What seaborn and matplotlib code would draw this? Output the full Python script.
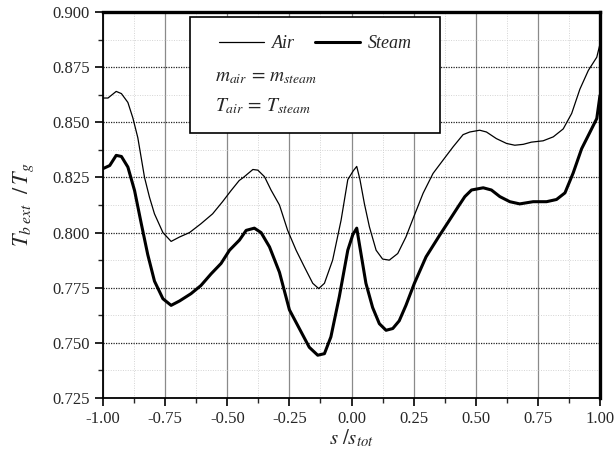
import matplotlib
matplotlib.use("Agg")
import matplotlib.pyplot as plt
from matplotlib.patches import Rectangle
from matplotlib.ticker import MultipleLocator, FormatStrFormatter
import seaborn as sns
import pandas as pd

# Values
s_air = [-1.00, -0.98, -0.947, -0.926, -0.90, -0.88, -0.86, -0.833, -0.813, -0.793,
         -0.759, -0.726, -0.692, -0.652, -0.606, -0.559, -0.519, -0.485, -0.452, -0.435,
         -0.397, -0.377, -0.35, -0.324, -0.29, -0.257, -0.223, -0.19, -0.156, -0.132,
         -0.109, -0.076, -0.042, -0.015, 0.007, 0.021, 0.034, 0.052, 0.072, 0.099,
         0.125, 0.152, 0.186, 0.219, 0.25, 0.288, 0.328, 0.368, 0.409, 0.449,
         0.476, 0.516, 0.543, 0.583, 0.624, 0.657, 0.691, 0.724, 0.771, 0.812,
         0.852, 0.886, 0.919, 0.953, 0.987, 1.0]
t_air = [0.861, 0.861, 0.864, 0.863, 0.859, 0.852, 0.843, 0.825, 0.816, 0.8085,
         0.800, 0.796, 0.798, 0.800, 0.804, 0.8085, 0.814, 0.819, 0.8236, 0.825,
         0.8286, 0.8283, 0.8253, 0.8193, 0.8125, 0.801, 0.792, 0.7845, 0.777, 0.7746,
         0.777, 0.7875, 0.8056, 0.824, 0.828, 0.830, 0.824, 0.813, 0.8026, 0.792,
         0.788, 0.7875, 0.7905, 0.798, 0.807, 0.8178, 0.8268, 0.8328, 0.8389, 0.8444,
         0.8456, 0.8464, 0.8456, 0.8426, 0.8404, 0.8396, 0.840, 0.841, 0.8416, 0.8434,
         0.847, 0.854, 0.865, 0.8735, 0.8795, 0.8855]

s_steam = [-1.00, -0.973, -0.947, -0.926, -0.90, -0.873, -0.846, -0.82, -0.793, -0.759,
           -0.726, -0.692, -0.646, -0.606, -0.565, -0.525, -0.491, -0.451, -0.424, -0.391,
           -0.364, -0.33, -0.29, -0.25, -0.21, -0.17, -0.136, -0.109, -0.083, -0.049,
           -0.015, 0.005, 0.021, 0.038, 0.058, 0.085, 0.112, 0.139, 0.166, 0.192,
           0.219, 0.253, 0.30, 0.353, 0.394, 0.429, 0.456, 0.483, 0.53, 0.563,
           0.597, 0.637, 0.677, 0.731, 0.785, 0.825, 0.859, 0.892, 0.926, 0.96,
           0.987, 1.0]
t_steam = [0.829, 0.8304, 0.835, 0.8345, 0.8297, 0.819, 0.804, 0.790, 0.778, 0.770,
           0.767, 0.769, 0.7723, 0.776, 0.7813, 0.786, 0.792, 0.7966, 0.801, 0.802,
           0.800, 0.7935, 0.782, 0.765, 0.7565, 0.748, 0.7444, 0.7451, 0.7527, 0.771,
           0.792, 0.799, 0.802, 0.7905, 0.777, 0.766, 0.7587, 0.7557, 0.7565, 0.760,
           0.767, 0.777, 0.789, 0.7985, 0.8056, 0.8117, 0.8163, 0.8193, 0.8203, 0.8193,
           0.8163, 0.814, 0.813, 0.814, 0.814, 0.815, 0.818, 0.827, 0.838, 0.8456,
           0.8517, 0.8622]

air = pd.DataFrame({"s": s_air, "t": t_air})
steam = pd.DataFrame({"s": s_steam, "t": t_steam})

sns.set_style("white")
plt.rcParams["font.family"] = ["Liberation Serif", "DejaVu Serif"]
plt.rcParams["mathtext.fontset"] = "stix"

fig = plt.figure(figsize=(6.14, 4.51), dpi=100)
ax = fig.add_axes([0.1678, 0.1175, 0.8094, 0.8559])

sns.lineplot(data=air, x="s", y="t", ax=ax, color="black", lw=0.9,
             sort=False, estimator=None, label="Air")
sns.lineplot(data=steam, x="s", y="t", ax=ax, color="black", lw=2.2,
             sort=False, estimator=None, label="Steam")

ax.set_xlim(-1.0, 1.0)
ax.set_ylim(0.725, 0.900)
ax.xaxis.set_major_locator(MultipleLocator(0.25))
ax.xaxis.set_minor_locator(MultipleLocator(0.125))
ax.yaxis.set_major_locator(MultipleLocator(0.025))
ax.yaxis.set_minor_locator(MultipleLocator(0.0125))
ax.xaxis.set_major_formatter(FormatStrFormatter("%.2f"))
ax.yaxis.set_major_formatter(FormatStrFormatter("%.3f"))

# grids
ax.grid(False)
ax.xaxis.grid(True, which="major", color="#8a8a8a", lw=0.9, ls="-")
ax.yaxis.grid(True, which="major", color="#222222", lw=0.9, ls=(0, (1, 1)))
ax.grid(True, which="minor", color="#d4d4d4", lw=0.7, ls=(0, (1, 1.5)))
ax.set_axisbelow(True)

ax.tick_params(axis="both", which="major", direction="out", length=6, width=1.2,
               labelsize=12, color="black", bottom=True, left=True)
ax.tick_params(axis="both", which="minor", direction="out", length=3.5, width=1.0,
               bottom=True, left=True)
for side in ["left", "bottom"]:
    ax.spines[side].set_linewidth(1.3)
for side in ["top", "right"]:
    ax.spines[side].set_linewidth(2.4)
for sp in ax.spines.values():
    sp.set_color("black")
    sp.set_visible(True)

ax.set_xlabel(r"$s\ /s_{tot}$", fontsize=15, labelpad=0)
ax.set_ylabel(r"$T_{b\ ext}\ \ /\,T_g$", fontsize=16, labelpad=12)

# legend box
box = Rectangle((0.175, 0.687), 0.503, 0.30, transform=ax.transAxes,
                facecolor="white", edgecolor="black", lw=1.2, zorder=5)
ax.add_patch(box)
leg = ax.legend(loc="center left", bbox_to_anchor=(0.2, 0.918), ncol=2,
                frameon=False, handlelength=2.5, columnspacing=1.1, handletextpad=0.45,
                prop={"family": "Liberation Serif", "style": "italic", "size": 13})
leg.set_zorder(6)
ax.text(0.225, 0.83, r"$m_{air}\,=\,m_{steam}$", transform=ax.transAxes,
        fontsize=14, va="center", ha="left", zorder=6)
ax.text(0.225, 0.757, r"$T_{air}\,=\,T_{steam}$", transform=ax.transAxes,
        fontsize=14, va="center", ha="left", zorder=6)

fig.savefig("out.png", dpi=100)
